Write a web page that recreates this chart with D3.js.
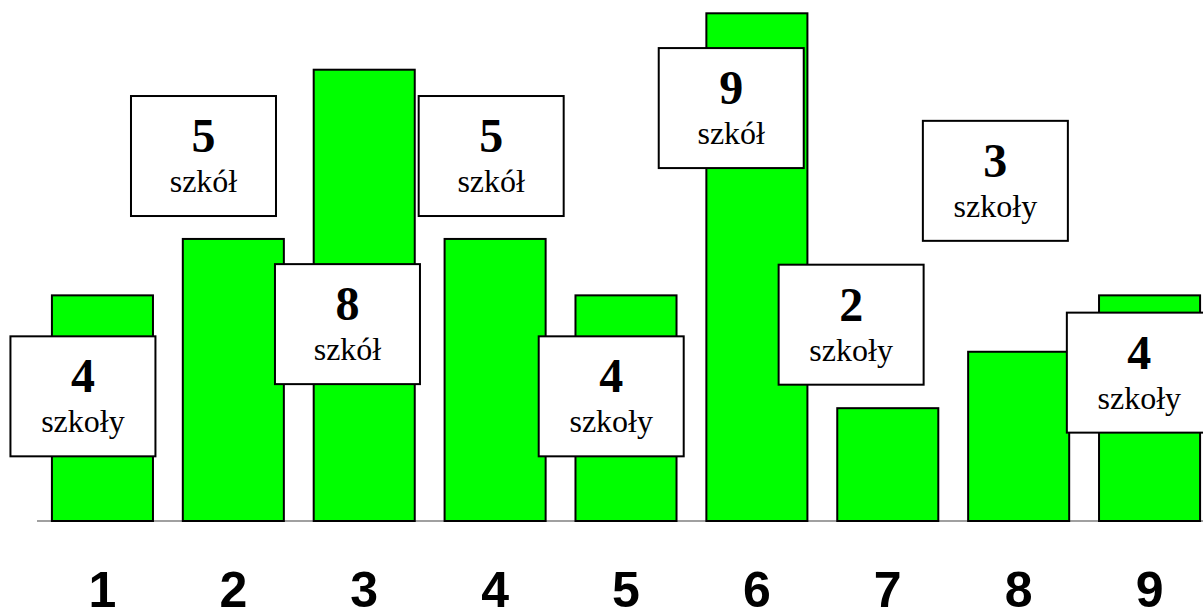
<!DOCTYPE html>
<html>
<head>
<meta charset="utf-8">
<title>Szkoły</title>
<script src="https://d3js.org/d3.v7.min.js"></script>
<style>
body {
  margin: 0;
  background: #fff;
}
.bar {
  fill: #00ff00;
  stroke: #000;
  stroke-width: 2px;
}
.baseline {
  stroke: #808080;
  stroke-width: 1.5px;
}
.box rect {
  fill: #fff;
  stroke: #000;
  stroke-width: 2px;
}
.box text {
  text-anchor: middle;
  fill: #000;
}
.cat {
  font-family: "Liberation Sans", Arial, sans-serif;
  font-size: 50px;
  font-weight: bold;
  text-anchor: middle;
}
</style>
</head>
<body>
<svg id="chart" width="1203" height="609"></svg>
<script>

var categories = ["1", "2", "3", "4", "5", "6", "7", "8", "9"];
var values = [4, 5, 8, 5, 4, 9, 2, 3, 4];
var words = ["szkoły", "szkół", "szkół", "szkół", "szkoły", "szkół", "szkoły", "szkoły", "szkoły"];

// where each callout box sits, in chart units (category position, value)
var labelAt = [
  [0.851, 2.21], [1.772, 6.47], [2.872, 3.49],
  [3.970, 6.47], [4.887, 2.21], [5.804, 7.32],
  [6.720, 3.48], [7.822, 6.03], [8.922, 2.63]
];

var serif = "'Liberation Serif', 'Times New Roman', 'DejaVu Serif', serif";

var svg = d3.select("svg#chart"),
    width = +svg.attr("width"),
    height = +svg.attr("height");

var x = d3.scaleBand()
    .domain(categories)
    .range([37, 1215])
    .paddingInner(0.228)
    .paddingOuter(0.114);

var y = d3.scaleLinear()
    .domain([0, 9])
    .range([521, 13.3]);

// continuous x for placing the callouts between categories
var xPos = d3.scaleLinear()
    .domain([1, 9])
    .range([x("1") + x.bandwidth() / 2, x("9") + x.bandwidth() / 2]);

var boxW = 145, boxH = 120;

svg.append("line")
    .attr("class", "baseline")
    .attr("x1", x.range()[0])
    .attr("x2", x.range()[1])
    .attr("y1", y(0))
    .attr("y2", y(0));

svg.selectAll("rect.bar")
    .data(values)
  .enter().append("rect")
    .attr("class", "bar")
    .attr("x", function(d, i) { return x(categories[i]); })
    .attr("width", x.bandwidth())
    .attr("y", function(d) { return y(d); })
    .attr("height", function(d) { return y(0) - y(d); });

svg.selectAll("text.cat")
    .data(categories)
  .enter().append("text")
    .attr("class", "cat")
    .attr("x", function(d) { return x(d) + x.bandwidth() / 2; })
    .attr("y", 607)
    .text(function(d) { return d; });

var box = svg.selectAll("g.box")
    .data(values)
  .enter().append("g")
    .attr("class", "box")
    .attr("transform", function(d, i) {
      var cx = xPos(labelAt[i][0]), cy = y(labelAt[i][1]);
      return "translate(" + (cx - boxW / 2) + "," + (cy - boxH / 2) + ")";
    });

box.append("rect")
    .attr("width", boxW)
    .attr("height", boxH);

box.append("text")
    .attr("x", boxW / 2)
    .attr("y", 56)
    .attr("font-family", serif)
    .attr("font-size", 48)
    .attr("font-weight", "bold")
    .text(function(d) { return d; });

box.append("text")
    .attr("x", boxW / 2)
    .attr("y", 96)
    .attr("font-family", serif)
    .attr("font-size", 32)
    .text(function(d, i) { return words[i]; });

</script>
</body>
</html>
